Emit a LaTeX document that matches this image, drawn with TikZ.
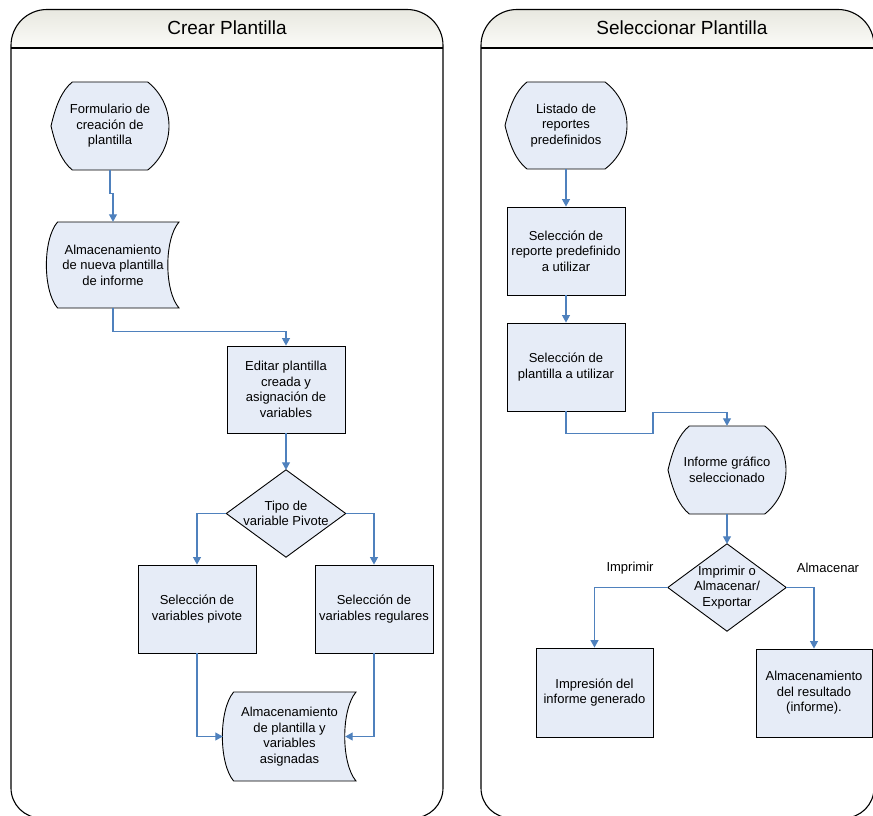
\documentclass[tikz,border=0pt]{standalone}
\usepackage{fontspec}
\setmainfont{Liberation Sans}
\usetikzlibrary{arrows.meta,calc}
\definecolor{nodefill}{RGB}{230,236,247}
\definecolor{connblue}{RGB}{79,129,189}
\definecolor{headtop}{RGB}{232,232,224}
\definecolor{headbot}{RGB}{251,251,248}
% display shape: L, T, W, H
\newcommand\dispshape[4]{%
 \path[shp] (#1,{#2+#4/2}) .. controls ({#1+0.04*#3},{#2+0.27*#4}) and ({#1+0.09*#3},{#2+0.1*#4}) .. ({#1+0.18*#3},#2)
  -- ({#1+0.82*#3},#2) .. controls ({#1+1.06*#3},{#2+0.257*#4}) and ({#1+1.06*#3},{#2+0.743*#4}) .. ({#1+0.82*#3},{#2+#4})
  -- ({#1+0.18*#3},{#2+#4}) .. controls ({#1+0.09*#3},{#2+0.9*#4}) and ({#1+0.04*#3},{#2+0.73*#4}) .. (#1,{#2+#4/2}) -- cycle;}
% stored data shape: L, T, W, H
\newcommand\storeshape[4]{%
 \path[shp] ({#1+0.08*#3},#2) -- ({#1+#3},#2) .. controls ({#1+0.887*#3},{#2+0.2*#4}) and ({#1+0.887*#3},{#2+0.8*#4}) .. ({#1+#3},{#2+#4})
  -- ({#1+0.08*#3},{#2+#4}) .. controls ({#1-0.033*#3},{#2+0.8*#4}) and ({#1-0.033*#3},{#2+0.2*#4}) .. ({#1+0.08*#3},#2) -- cycle;}
\tikzset{
 nfont/.style={font=\fontsize{13}{15.5}\selectfont},
 shp/.style={draw=black, fill=nodefill, line width=0.9pt},
 txt/.style={nfont, inner sep=0pt, align=center},
 proc/.style={txt, draw=black, fill=nodefill, line width=0.9pt},
 lbl/.style={nfont, inner sep=0pt},
 lane/.style={draw=black, line width=1.1pt},
 head/.style={top color=headtop, bottom color=headbot},
 htitle/.style={font=\fontsize{19}{21}\selectfont, inner sep=0pt},
 conn/.style={draw=connblue, line width=1.1pt, -{Triangle[width=8pt,length=7.5pt]}},
}
\begin{document}
\begin{tikzpicture}[x=1pt,y=-1pt]
\useasboundingbox (0,0) rectangle (873,816);
% ---------- lanes ----------
\path[head] (11,48) -- (11,45.5) .. controls (11,25.6) and (27.1,9.5) .. (47,9.5) -- (407,9.5) .. controls (426.9,9.5) and (443,25.6) .. (443,45.5) -- (443,48) -- cycle;
\draw[lane] (11,45.5) .. controls (11,25.6) and (27.1,9.5) .. (47,9.5) -- (407,9.5) .. controls (426.9,9.5) and (443,25.6) .. (443,45.5)
  -- (443,788) .. controls (443,804.6) and (429.6,818) .. (413,818) -- (41,818) .. controls (24.4,818) and (11,804.6) .. (11,788) -- cycle;
\draw[lane] (11,48) -- (443,48);
\node[htitle] (t1) at (227,28) {Crear Plantilla};

\path[head] (481,48) -- (481,45.5) .. controls (481,25.6) and (497.1,9.5) .. (517,9.5) -- (838,9.5) .. controls (857.9,9.5) and (874,25.6) .. (874,45.5) -- (874,48) -- cycle;
\draw[lane] (481,45.5) .. controls (481,25.6) and (497.1,9.5) .. (517,9.5) -- (838,9.5) .. controls (857.9,9.5) and (874,25.6) .. (874,45.5)
  -- (874,788) .. controls (874,804.6) and (860.6,818) .. (844,818) -- (511,818) .. controls (494.4,818) and (481,804.6) .. (481,788) -- cycle;
\draw[lane] (481,48) -- (874,48);
\node[htitle] (t2) at (682,28) {Seleccionar Plantilla};

% ---------- left lane ----------
\dispshape{51}{82}{118}{88}
\node[txt, minimum width=118pt, minimum height=88pt] (form) at (110,126) {Formulario de\\creación de\\plantilla};
\storeshape{47}{222}{132}{86}
\node[txt, minimum width=132pt, minimum height=86pt] (alm1) at (113,265) {Almacenamiento\\de nueva plantilla\\de informe};
\node[proc, minimum width=118pt, minimum height=87pt] (edit) at (286,389.5) {Editar plantilla\\creada y\\asignación de\\variables};
\node[txt, minimum width=119pt, minimum height=87pt] (dia1) at (286,513.5) {};
\path[shp] (dia1.north) -- (dia1.east) -- (dia1.south) -- (dia1.west) -- cycle;
\node[txt] at (dia1.center) {Tipo de\\variable Pivote};
\node[proc, minimum width=118pt, minimum height=88pt] (piv) at (197,609) {Selección de\\variables pivote};
\node[proc, minimum width=118pt, minimum height=88pt] (reg) at (374,609) {Selección de\\variables regulares};
\storeshape{223}{692}{133}{89}
\node[txt, minimum width=133pt, minimum height=89pt] (alm2) at (289.5,736.5) {Almacenamiento\\de plantilla y\\variables\\asignadas};

\draw[conn] (form.south) -- ++(0,23) -| (alm1.north);
\draw[conn] (alm1.south) -- ++(0,23) -| (edit.north);
\draw[conn] (edit.south) -- (dia1.north);
\draw[conn] (dia1.west) -| (piv.north);
\draw[conn] (dia1.east) -| (reg.north);
\draw[conn] (piv.south) |- (alm2.west);
\draw[conn] (reg.south) |- ($(alm2.east)+(-11,0)$);

% ---------- right lane ----------
\dispshape{505}{82}{122}{87}
\node[txt, minimum width=122pt, minimum height=87pt] (list) at (566,125.5) {Listado de\\reportes\\predefinidos};
\node[proc, minimum width=118pt, minimum height=88pt] (rep) at (566,251) {Selección de\\reporte predefinido\\a utilizar};
\node[proc, minimum width=118pt, minimum height=88pt] (plant) at (566,367) {Selección de\\plantilla a utilizar};
\dispshape{668}{426}{118}{88}
\node[txt, minimum width=118pt, minimum height=88pt] (inf) at (727,470) {Informe gráfico\\seleccionado};
\node[txt, minimum width=118pt, minimum height=87pt] (dia2) at (727,587.5) {};
\path[shp] (dia2.north) -- (dia2.east) -- (dia2.south) -- (dia2.west) -- cycle;
\node[txt] at (dia2.center) {Imprimir o\\Almacenar/\\Exportar};
\node[proc, minimum width=117pt, minimum height=89pt] (imp) at (594.5,692.5) {Impresión del\\informe generado};
\node[proc, minimum width=116pt, minimum height=88pt] (ares) at (814,693) {Almacenamiento\\del resultado\\(informe).};
\node[lbl] (limp) at (630,568) {Imprimir};
\node[lbl] (lalm) at (828,568) {Almacenar};

\draw[conn] (list.south) -- (rep.north);
\draw[conn] (rep.south) -- (plant.north);
\draw[conn] (plant.south) -- ++(0,22) -| ++(87,-21) -| (inf.north);
\draw[conn] (inf.south) -- (dia2.north);
\draw[conn] (dia2.west) -| (imp.north);
\draw[conn] (dia2.east) -| (ares.north);
\end{tikzpicture}
\end{document}
